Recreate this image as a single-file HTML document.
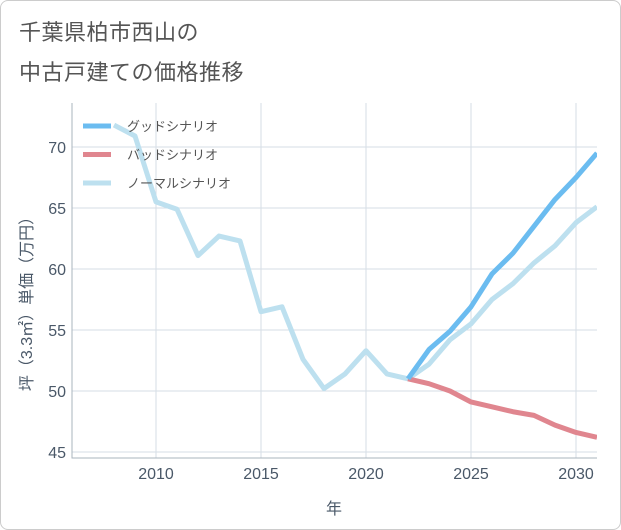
<!DOCTYPE html>
<html><head><meta charset="utf-8"><style>
body{margin:0;background:#fff;}
#wrap{position:relative;width:619px;height:528px;border:1px solid #ccc;border-radius:8px;overflow:hidden;background:#fff;font-family:"Liberation Sans","Noto Sans CJK JP",sans-serif;}
.title{position:absolute;left:18px;font-size:22px;color:#555;letter-spacing:0.5px;}
</style></head><body>
<div id="wrap">
<div class="title" style="top:14px">千葉県柏市西山の</div>
<div class="title" style="top:54px">中古戸建ての価格推移</div>
<svg id="chart" width="621" height="530" style="position:absolute;left:-1px;top:-1px"></svg>
</div>
<script>
const years=[2008,2009,2010,2011,2012,2013,2014,2015,2016,2017,2018,2019,2020,2021,2022,2023,2024,2025,2026,2027,2028,2029,2030,2031];
const normalVals=[71.8,70.9,65.5,64.9,61.1,62.7,62.3,56.5,56.9,52.6,50.2,51.4,53.3,51.4,51.0,52.2,54.2,55.5,57.5,58.8,60.5,61.9,63.8,65.1];
const futureYears=[2022,2023,2024,2025,2026,2027,2028,2029,2030,2031];
const goodVals=[51.0,53.4,54.9,56.9,59.6,61.3,63.5,65.7,67.5,69.5];
const badVals=[51.0,50.6,50.0,49.1,48.7,48.3,48.0,47.2,46.6,46.2];
const xTicks=[2010,2015,2020,2025,2030];
const yTicks=[45,50,55,60,65,70];
const legendLabels=["グッドシナリオ","バッドシナリオ","ノーマルシナリオ"];
const legendColors=["#6bbcf0","#e0868f","#bde0ef"];

const NS="http://www.w3.org/2000/svg";
const svg=document.getElementById('chart');
const L=72,R=597,T=103,B=458;
const x=v=>L+(v-2006)*(R-L)/25;
const y=v=>452-(v-45)*(452-147)/25;
function mk(tag,attrs){const e=document.createElementNS(NS,tag);for(const k in attrs)e.setAttribute(k,attrs[k]);svg.appendChild(e);return e;}
xTicks.forEach(t=>{const g=mk('line',{x1:x(t),x2:x(t),y1:T,y2:B,stroke:'#d5dde6','stroke-width':1});


const tx=mk('text',{x:x(t),y:479,'text-anchor':'middle','font-size':16,fill:'#4a5868'});tx.textContent=t;

});
yTicks.forEach(t=>{const g=mk('line',{x1:L,x2:R,y1:y(t),y2:y(t),stroke:'#d5dde6','stroke-width':1});


const tx=mk('text',{x:L-6,y:y(t)+6,'text-anchor':'end','font-size':16,fill:'#4a5868'});tx.textContent=t;

});
const ax=mk('path',{d:`M${L},${T}V${B}H${R}`,fill:'none',stroke:'#aab4be','stroke-width':1});


function line(xs,vs,color,name){const p=mk('polyline',{points:xs.map((v,i)=>x(v)+','+y(vs[i])).join(' '),fill:'none',stroke:color,'stroke-width':5,'stroke-linejoin':'round'});

}
const clip=mk('clipPath',{id:'c'});const cr=document.createElementNS(NS,'rect');cr.setAttribute('x',L);cr.setAttribute('y',T);cr.setAttribute('width',R-L);cr.setAttribute('height',B-T);clip.appendChild(cr);
line(years,normalVals,legendColors[2],'normal-scenario-line');
line(futureYears,badVals,legendColors[1],'bad-scenario-line');
line(futureYears,goodVals,legendColors[0],'good-scenario-line');
svg.querySelectorAll('polyline').forEach(p=>p.setAttribute('clip-path','url(#c)'));
legendLabels.forEach((lb,i)=>{const yy=126+i*28.5;
const l=mk('line',{x1:83,x2:111,y1:yy,y2:yy,stroke:legendColors[i],'stroke-width':5});


const t=mk('text',{x:127,y:yy+5,'font-size':13,fill:'#555'});t.textContent=lb;

});
const xt=mk('text',{x:334,y:514,'text-anchor':'middle','font-size':16,fill:'#4a5868'});xt.textContent='年';


const yt=mk('text',{x:0,y:0,'text-anchor':'middle','font-size':16,fill:'#4a5868',transform:'translate(32,300) rotate(-90)'});yt.textContent='坪（3.3㎡）単価（万円）';


</script>
</body></html>
